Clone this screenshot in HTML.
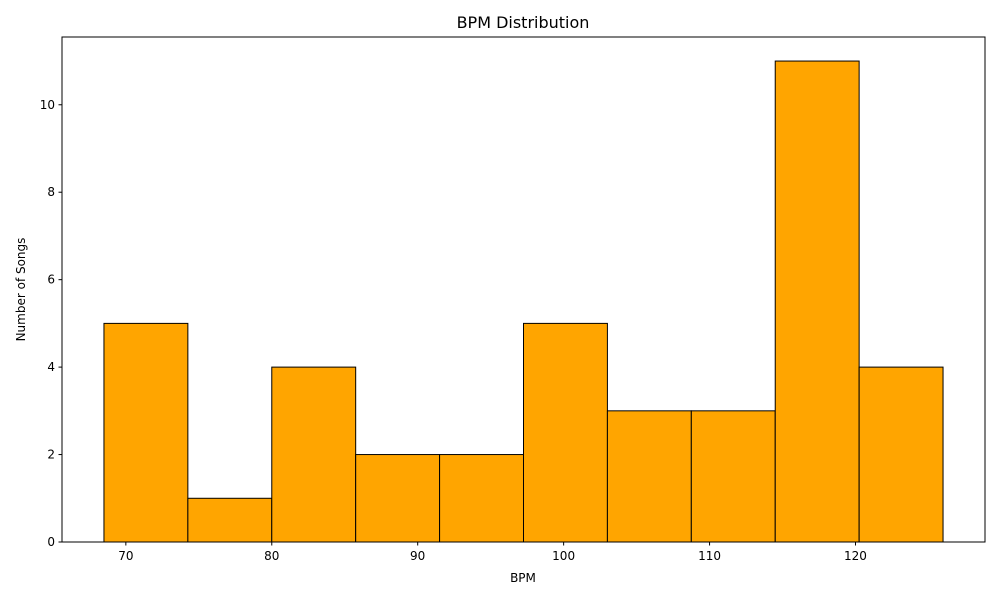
<!DOCTYPE html>
<html><head><meta charset="utf-8"><style>
body{margin:0;background:#fff;font-family:"Liberation Sans","DejaVu Sans",sans-serif;}
svg text{font-family:"DejaVu Sans","Liberation Sans",sans-serif;}
</style></head><body>
<svg id="chart" width="1000" height="600" xmlns="http://www.w3.org/2000/svg">
<rect width="1000" height="600" fill="#fff"/>
<text x="523" y="28" font-size="16" text-anchor="middle">BPM Distribution</text>
<g id="bars"></g>
<g id="xticks"></g>
<g id="yticks"></g>
<rect x="62" y="37" width="923" height="505" fill="none" stroke="#000" stroke-width="1"/>
<text x="523" y="582" font-size="12" text-anchor="middle">BPM</text>
<text x="0" y="0" font-size="12" text-anchor="middle" transform="translate(25,289.5) rotate(-90)">Number of Songs</text>
</svg>
<script>
const binStart = 68.5;
const binWidth = 5.75;
const counts = [5,1,4,2,2,5,3,3,11,4];
const xTicks = [70,80,90,100,110,120];
const yTicks = [0,2,4,6,8,10];
const X0=62,X1=985,Y0=542,Y1=37;
const xmin=65.625,xmax=128.875,ymin=0,ymax=11.55;
const sx=v=>X0+(v-xmin)/(xmax-xmin)*(X1-X0);
const sy=v=>Y0-(v-ymin)/(ymax-ymin)*(Y0-Y1);
const NS="http://www.w3.org/2000/svg";
const bars=document.getElementById('bars');
counts.forEach((c,i)=>{
  const r=document.createElementNS(NS,'rect');
  const a=sx(binStart+i*binWidth),b=sx(binStart+(i+1)*binWidth);
  r.setAttribute('x',a);r.setAttribute('width',b-a);
  r.setAttribute('y',sy(c));r.setAttribute('height',sy(0)-sy(c));
  r.setAttribute('fill','#ffa500');r.setAttribute('stroke','#000');r.setAttribute('stroke-width','1');
  
  
  bars.appendChild(r);
});
const xg=document.getElementById('xticks');
xTicks.forEach(t=>{
  const x=sx(t);
  const l=document.createElementNS(NS,'line');
  l.setAttribute('x1',x);l.setAttribute('x2',x);l.setAttribute('y1',Y0);l.setAttribute('y2',Y0+3.5);l.setAttribute('stroke','#000');
  
  
  xg.appendChild(l);
  const tx=document.createElementNS(NS,'text');
  tx.setAttribute('x',x);tx.setAttribute('y',Y0+18);tx.setAttribute('font-size','12');tx.setAttribute('text-anchor','middle');
  tx.textContent=t;
  
  
  xg.appendChild(tx);
});
const yg=document.getElementById('yticks');
yTicks.forEach(t=>{
  const y=sy(t);
  const l=document.createElementNS(NS,'line');
  l.setAttribute('x1',X0-3.5);l.setAttribute('x2',X0);l.setAttribute('y1',y);l.setAttribute('y2',y);l.setAttribute('stroke','#000');
  
  
  yg.appendChild(l);
  const tx=document.createElementNS(NS,'text');
  tx.setAttribute('x',X0-7);tx.setAttribute('y',y+4);tx.setAttribute('font-size','12');tx.setAttribute('text-anchor','end');
  tx.textContent=t;
  
  
  yg.appendChild(tx);
});
</script>
</body></html>
